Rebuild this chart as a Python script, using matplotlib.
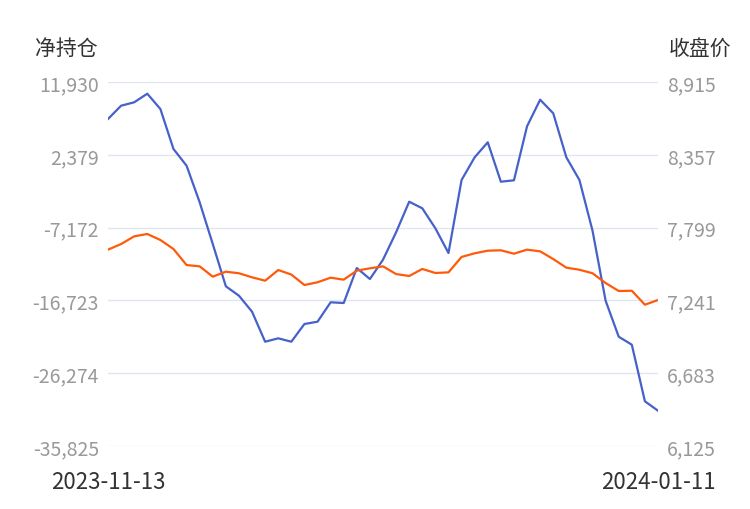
import matplotlib
matplotlib.use("Agg")
import matplotlib.pyplot as plt
import numpy as np
import pandas as pd

plt.rcParams['font.family'] = ['Noto Sans CJK SC', 'DejaVu Sans']

# 交易日 2023-11-13 .. 2024-01-11
dates = pd.bdate_range("2023-11-13", "2024-01-11")
dates = dates[dates != pd.Timestamp("2024-01-01")]
date_labels = [d.strftime("%Y-%m-%d") for d in dates]

net_position = [7076, 8821, 9267, 10395, 8388, 3140, 949, -3853, -9324, -14874,
                -16107, -18207, -22143, -21697, -22143, -19820, -19519, -16973, -17065, -12473,
                -13916, -11384, -7789, -3775, -4641, -7265, -10505, -928, 2051, 4019,
                -1151, -967, 6118, 9608, 7823, 2051, -928, -7579, -16763, -21487,
                -22536, -29962, -31195]
close_price = [7630, 7673, 7732, 7750, 7704, 7635, 7512, 7502, 7423, 7461,
               7449, 7418, 7392, 7474, 7439, 7359, 7380, 7415, 7400, 7469,
               7487, 7502, 7443, 7428, 7482, 7451, 7456, 7574, 7602, 7622,
               7625, 7599, 7630, 7617, 7558, 7492, 7476, 7449, 7374, 7313,
               7315, 7208, 7244]

left_ticks = [-35825, -26274, -16723, -7172, 2379, 11930]
right_ticks = [6125, 6683, 7241, 7799, 8357, 8915]

x = np.arange(len(date_labels))

fig = plt.figure(figsize=(7.5, 5.1), dpi=100)
ax = fig.add_axes([108 / 750, 63 / 510, 550 / 750, 364 / 510])
ax2 = ax.twinx()

ax.plot(x, net_position, color="#4661c9", lw=1.6, zorder=3)
ax2.plot(x, close_price, color="#ff5a0a", lw=1.6, zorder=3)

ax.set_xlim(0, len(x) - 1)
ax.set_ylim(left_ticks[0], left_ticks[-1])
ax2.set_ylim(right_ticks[0], right_ticks[-1])
ax.set_yticks(left_ticks)
ax.set_yticklabels([f"{v:,}" for v in left_ticks])
ax2.set_yticks(right_ticks)
ax2.set_yticklabels([f"{v:,}" for v in right_ticks])
ax.set_xticks([0, len(x) - 1])
ax.set_xticklabels([date_labels[0], date_labels[-1]])

ax.grid(axis="y", color="#e0e6f1", lw=1)
ax.set_axisbelow(True)
for a in (ax, ax2):
    for s in a.spines.values():
        s.set_visible(False)
ax.tick_params(axis="y", length=0, pad=6.5, labelsize=14, labelcolor="#999999")
ax2.tick_params(axis="y", length=0, pad=6.5, labelsize=14, labelcolor="#999999")
ax.tick_params(axis="x", length=0, pad=17, labelsize=16, labelcolor="#333333")

fig.text(35 / 750, 1 - 49 / 510, "净持仓", fontsize=15, color="#333333", ha="left", va="center")
fig.text(731 / 750, 1 - 49 / 510, "收盘价", fontsize=15, color="#333333", ha="right", va="center")

fig.savefig("out.png", dpi=100)
